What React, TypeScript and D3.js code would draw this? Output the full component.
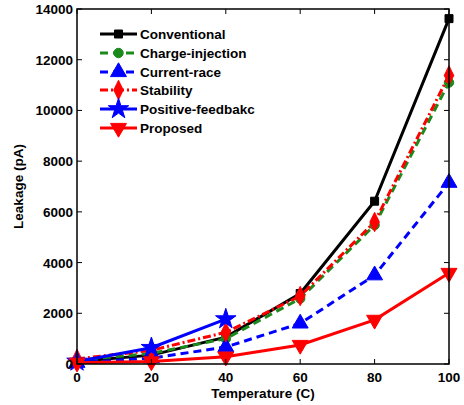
import React from "react";
import * as d3 from "d3";

const temps = [0, 20, 40, 60, 80, 100];
const conventional = [100, 350, 1060, 2780, 6420, 13620];
const chargeInjection = [150, 420, 1000, 2580, 5480, 11100];
const currentRace = [50, 230, 670, 1600, 3500, 7150];
const stability = [200, 540, 1250, 2680, 5600, 11380];
const positiveFeedback = [100, 640, 1770];
const proposed = [50, 100, 290, 750, 1740, 3590];
const seriesNames = ["Conventional", "Charge-injection", "Current-race", "Stability", "Positive-feedbakc", "Proposed"];
const xTicks = [0, 20, 40, 60, 80, 100];
const yTicks = [0, 2000, 4000, 6000, 8000, 10000, 12000, 14000];

type S = { name: string; values: number[]; color: string; dash: string; marker: string };
const series: S[] = [
  { name: seriesNames[0], values: conventional, color: "#000000", dash: "", marker: "square" },
  { name: seriesNames[1], values: chargeInjection, color: "#1a8a1a", dash: "8,5", marker: "circle" },
  { name: seriesNames[2], values: currentRace, color: "#0000ff", dash: "8,5", marker: "triangle" },
  { name: seriesNames[3], values: stability, color: "#ff0000", dash: "8,3,2,3", marker: "diamond" },
  { name: seriesNames[4], values: positiveFeedback, color: "#0000ff", dash: "", marker: "star" },
  { name: seriesNames[5], values: proposed, color: "#ff0000", dash: "", marker: "down" },
];

const W = 464, H = 405;
const m = { left: 77, right: 15, top: 9, bottom: 41 };
const x = d3.scaleLinear().domain([0, 100]).range([m.left, W - m.right]);
const y = d3.scaleLinear().domain([0, 14000]).range([H - m.bottom, m.top]);

function Marker({ type, cx, cy, color }: { type: string; cx: number; cy: number; color: string }) {
  const sym: Record<string, [d3.SymbolType, number, number]> = {
    square: [d3.symbolSquare, 64, 0],
    circle: [d3.symbolCircle, 70, 0],
    triangle: [d3.symbolTriangle, 110, 0],
    diamond: [d3.symbolDiamond, 110, 0],
    star: [d3.symbolStar, 130, 0],
    down: [d3.symbolTriangle, 110, 180],
  };
  const [t, size, rot] = sym[type];
  const p = d3.symbol().type(t).size(size)() as string;
  return (
    <path
      d={p}
      transform={`translate(${cx},${cy}) rotate(${rot})${type === "diamond" ? " scale(0.85,1)" : ""}`}
      fill={color}
      stroke={color}
      strokeWidth={1}
    />
  );
}

export default function App() {
  const line = d3.line<number>().x((_, i) => x(temps[i])).y((d) => y(d));
  const font = "'Liberation Sans', Arial, Helvetica, sans-serif";
  const legendY = [34, 53, 72, 90, 109, 128];
  return (
    <svg width={W} height={H} style={{ position: "absolute", left: 0, top: 0 }}>
      <rect width={W} height={H} fill="white" />
      <g style={{ fontFamily: font, fontWeight: "bold", fontSize: "13.5px" }}>
        {series.map((s) => (
          <g key={s.name}>
            <path d={line(s.values) as string} fill="none" stroke={s.color} strokeWidth={3} strokeDasharray={s.dash || undefined} />
            {s.values.map((v, i) => (
              <Marker key={i} type={s.marker} cx={x(temps[i])} cy={y(v)} color={s.color} />
            ))}
          </g>
        ))}
        <rect x={m.left} y={m.top} width={W - m.left - m.right} height={H - m.top - m.bottom} fill="none" stroke="black" strokeWidth={1.5} />
        {xTicks.map((t) => (
          <g key={"x" + t}>
            <line x1={x(t)} x2={x(t)} y1={y(0)} y2={y(0) - 5} stroke="black" />
            <line x1={x(t)} x2={x(t)} y1={y(14000)} y2={y(14000) + 5} stroke="black" />
            <text x={x(t)} y={y(0) + 18} textAnchor="middle">{t}</text>
          </g>
        ))}
        {yTicks.map((t) => (
          <g key={"y" + t}>
            <line x1={x(0)} x2={x(0) + 5} y1={y(t)} y2={y(t)} stroke="black" />
            <line x1={x(100)} x2={x(100) - 5} y1={y(t)} y2={y(t)} stroke="black" />
            <text x={x(0) - 4} y={y(t) + 5} textAnchor="end">{t}</text>
          </g>
        ))}
        <text x={(x(0) + x(100)) / 2} y={H - 7} textAnchor="middle">Temperature (C)</text>
        <text transform={`translate(23,${(y(0) + y(14000)) / 2}) rotate(-90)`} textAnchor="middle">Leakage (pA)</text>
        {series.map((s, i) => (
          <g key={"l" + s.name}>
            <line x1={100} x2={137} y1={legendY[i]} y2={legendY[i]} stroke={s.color} strokeWidth={3} strokeDasharray={s.dash || undefined} />
            <Marker type={s.marker} cx={118.5} cy={legendY[i]} color={s.color} />
            <text x={140} y={legendY[i] + 5}>{s.name}</text>
          </g>
        ))}
      </g>
    </svg>
  );
}
